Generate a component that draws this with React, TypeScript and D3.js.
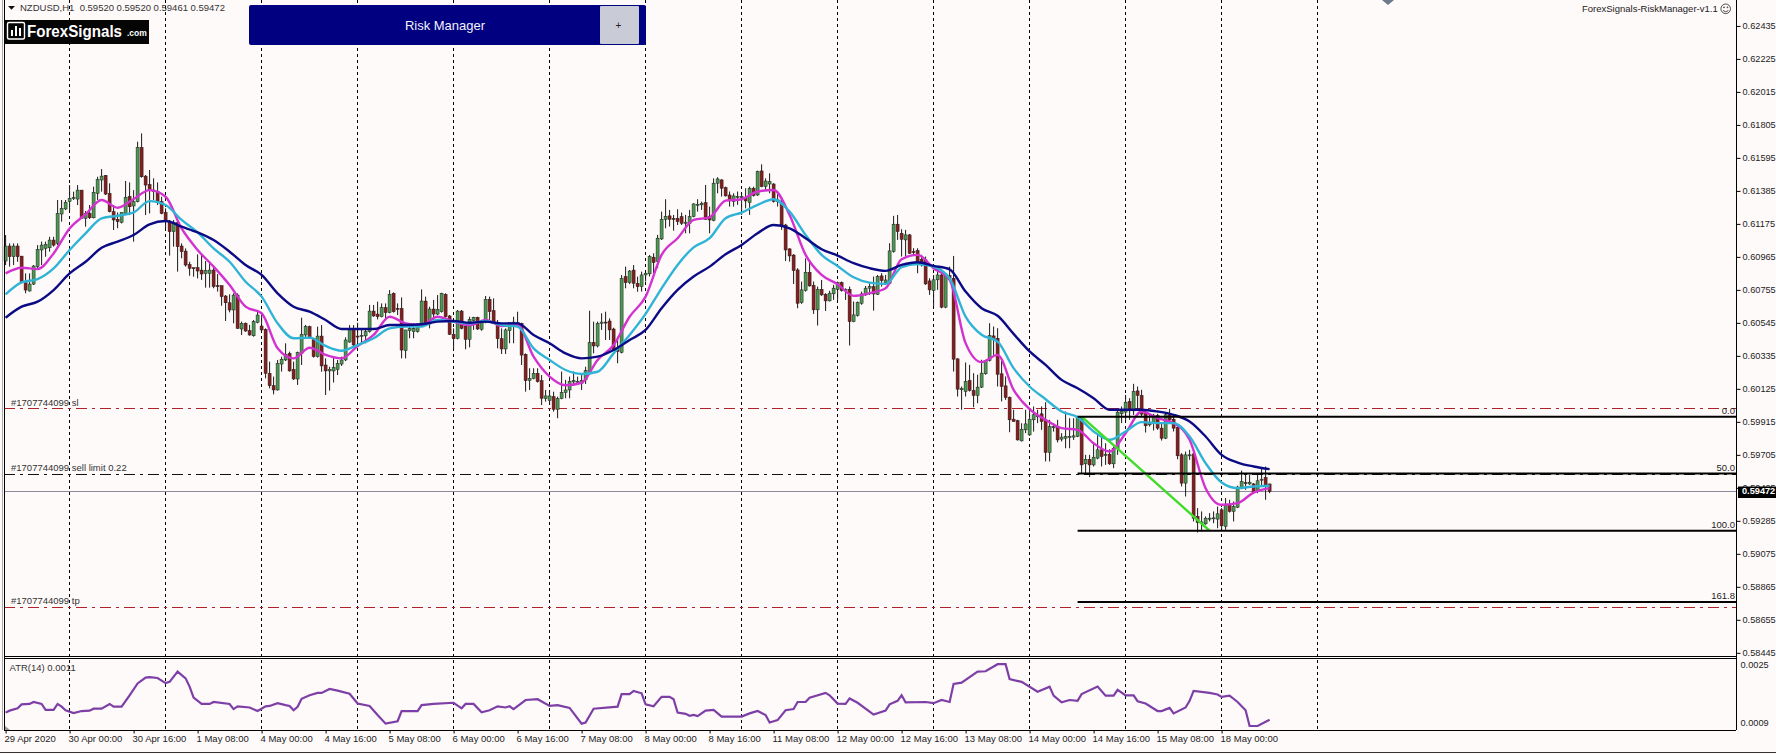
import React, { useEffect, useRef } from 'react';
import * as d3 from 'd3';

// prices are in points (1 = 0.00001)
const opens = [
  60939,61034,60966,61034,60970,60801,60748,60792,60903,61009,
  61019,61023,61072,61051,61238,61270,61316,61337,61333,61390,
  61210,61242,61214,61369,61454,61484,61369,61253,61204,61185,
  61242,61350,61289,61316,61662,61479,61426,61390,61380,61316,
  61248,61189,61125,61183,61034,61002,60917,60896,60896,60881,
  60860,60860,60881,60782,60782,60716,60673,60627,60722,60506,
  60542,60495,60463,60548,60525,60504,60224,60145,60118,60283,
  60309,60351,60249,60188,60351,60468,60521,60447,60330,60461,
  60277,60239,60239,60249,60283,60309,60423,60504,60461,60462,
  60462,60489,60620,60601,60584,60642,60610,60733,60637,60637,
  60368,60495,60489,60489,60527,60684,60538,60633,60601,60616,
  60727,60589,60472,60446,60620,60525,60440,60559,60580,60504,
  60548,60695,60623,60546,60444,60379,60495,60542,60546,60542,
  60345,60177,60192,60224,60177,60063,60050,60075,59995,60063,
  60101,60118,60169,60169,60160,60182,60235,60421,60398,60542,
  60550,60557,60506,60383,60357,60839,60801,60881,60797,60776,
  60850,60857,60963,60935,61079,61204,61226,61209,61211,61221,
  61179,61179,61221,61293,61296,61310,61221,61196,61434,61455,
  61406,61359,61317,61347,61342,61342,61310,61402,61359,61512,
  61412,61429,61429,61328,61321,61168,61016,60977,60882,60674,
  60751,60867,60784,60628,60759,60727,60685,60730,60759,60802,
  60751,60759,60553,60592,60670,60723,60766,60776,60727,60844,
  60801,60797,60999,61173,61115,61073,61105,60999,61005,60950,
  60946,60812,60751,60819,60850,60645,60846,60829,60316,60119,
  60108,60178,60115,60083,60136,60221,60305,60462,60447,60221,
  60144,60072,59932,59923,59794,59864,59832,59928,59947,59966,
  59923,59720,59877,59881,59805,59811,59815,59818,59822,59945,
  59648,59677,59641,59684,59737,59701,59709,59648,59743,59966,
  59977,60045,59985,60112,60083,59970,59896,59907,59955,59875,
  59811,59960,59932,59879,59705,59525,59699,59711,59313,59270,
  59266,59296,59300,59296,59355,59249,59387,59345,59372,59496,
  59528,59520,59520,59472,59547,59561,59520,
];
const highs = [
  61104,61051,61051,61051,60970,60860,60860,60913,61040,61062,
  61062,61093,61093,61327,61327,61327,61422,61380,61422,61390,
  61257,61295,61412,61475,61524,61486,61433,61295,61248,61248,
  61448,61439,61390,61698,61751,61486,61518,61465,61439,61348,
  61274,61200,61200,61189,61051,61019,60934,60896,60981,60977,
  60939,60939,60896,60856,60782,60722,60727,60733,60733,60553,
  60548,60532,60563,60616,60606,60510,60298,60203,60309,60330,
  60415,60362,60298,60362,60578,60532,60527,60451,60521,60531,
  60319,60266,60330,60309,60330,60453,60531,60531,60546,60510,
  60500,60659,60659,60680,60669,60669,60754,60739,60669,60707,
  60500,60531,60542,60542,60758,60712,60648,60691,60722,60737,
  60733,60595,60510,60627,60627,60531,60584,60584,60584,60559,
  60716,60712,60701,60563,60510,60510,60546,60584,60616,60546,
  60351,60256,60256,60256,60213,60118,60118,60107,60075,60235,
  60182,60203,60235,60203,60213,60266,60622,60553,60553,60606,
  60616,60574,60514,60457,60849,60903,60881,60913,60839,60871,
  60871,60977,60988,61105,61253,61332,61264,61232,61268,61247,
  61232,61264,61306,61332,61317,61423,61285,61465,61472,61459,
  61412,61381,61370,61381,61370,61402,61412,61412,61514,61554,
  61465,61497,61434,61370,61328,61175,61020,60982,60893,60808,
  60956,60946,60808,60776,60818,60734,60749,60787,60808,60808,
  60765,60776,60681,60681,60744,60780,60797,60840,60850,60861,
  60850,61052,61226,61232,61141,61137,61111,61020,61020,60978,
  60967,60829,60850,60903,60861,60861,60903,60971,60320,60140,
  60293,60278,60225,60215,60310,60310,60543,60522,60511,60310,
  60204,60076,59992,59928,59906,59992,59996,60013,59992,60013,
  60040,59928,59907,59928,59843,59981,59938,59938,59953,59949,
  59705,59705,59779,59843,59822,59779,59741,59758,59992,60013,
  60087,60066,60157,60140,60119,59992,59960,59966,59966,59907,
  59966,59998,59960,59885,59716,59726,59737,59737,59366,59345,
  59313,59334,59345,59376,59366,59430,59419,59408,59508,59605,
  59578,59578,59525,59578,59620,59631,59520,
];
const lows = [
  60913,60903,60913,60934,60797,60733,60744,60786,60892,60913,
  60966,60998,61030,61040,61189,61263,61257,61327,61295,61206,
  61157,61206,61210,61327,61380,61359,61248,61136,61147,61178,
  61231,61231,61062,61312,61469,61231,61242,61327,61295,61236,
  61147,60973,61030,60871,60956,60903,60845,60839,60828,60818,
  60769,60769,60765,60744,60654,60557,60612,60542,60506,60468,
  60489,60463,60457,60542,60493,60192,60128,60090,60114,60235,
  60302,60235,60182,60150,60277,60447,60447,60324,60324,60234,
  60086,60114,60165,60213,60271,60302,60419,60398,60419,60415,
  60415,60483,60584,60567,60580,60570,60606,60610,60595,60319,
  60319,60447,60447,60483,60521,60531,60510,60563,60595,60610,
  60580,60468,60377,60440,60504,60377,60389,60500,60500,60495,
  60542,60546,60538,60383,60347,60347,60415,60415,60538,60277,
  60107,60118,60186,60165,60022,60044,60022,59980,59938,60059,
  60065,60065,60150,60150,60118,60156,60224,60351,60389,60500,
  60436,60436,60372,60288,60351,60765,60792,60765,60743,60744,
  60808,60840,60861,60893,61073,61147,61158,61132,61168,61168,
  61115,61115,61217,61253,61264,61200,61115,61192,61370,61349,
  61349,61285,61285,61296,61232,61274,61232,61349,61353,61408,
  61391,61370,61311,61285,61137,60939,60935,60793,60638,60666,
  60744,60776,60602,60528,60717,60621,60681,60691,60691,60744,
  60691,60401,60549,60585,60660,60717,60723,60623,60723,60776,
  60793,60793,60992,61073,60967,60967,60984,60977,60861,60903,
  60787,60723,60645,60755,60638,60638,60823,60235,60076,59992,
  60076,60108,60008,60034,60130,60215,60299,60341,60140,60045,
  60055,59849,59917,59796,59790,59843,59826,59853,59907,59864,
  59663,59663,59853,59784,59790,59747,59747,59800,59818,59584,
  59588,59563,59631,59677,59631,59641,59641,59620,59705,59907,
  59917,59928,59959,59992,59949,59847,59885,59860,59864,59796,
  59805,59907,59854,59677,59504,59440,59673,59281,59211,59217,
  59260,59281,59270,59238,59228,59228,59338,59281,59366,59487,
  59482,59514,59461,59461,59500,59419,59461,
];
const closes = [
  61034,60966,61034,60966,60801,60754,60792,60907,61013,61040,
  61045,61072,61040,61242,61274,61312,61337,61342,61390,61210,
  61242,61214,61376,61458,61479,61365,61253,61200,61189,61248,
  61344,61284,61316,61662,61475,61422,61390,61380,61312,61242,
  61189,61125,61183,61030,60998,60913,60892,60890,60875,60856,
  60877,60881,60775,60775,60712,60673,60627,60722,60510,60542,
  60493,60468,60553,60595,60500,60224,60145,60118,60287,60313,
  60345,60239,60188,60355,60472,60521,60447,60330,60461,60271,
  60239,60249,60260,60287,60309,60436,60504,60404,60457,60466,
  60489,60620,60589,60584,60642,60610,60727,60616,60633,60372,
  60500,60510,60510,60527,60684,60538,60633,60601,60631,60733,
  60584,60472,60444,60620,60510,60440,60567,60580,60506,60553,
  60695,60616,60542,60444,60379,60500,60546,60550,60538,60340,
  60177,60192,60224,60171,60065,60080,60080,59995,60063,60103,
  60118,60173,60177,60173,60177,60241,60419,60398,60542,60550,
  60546,60500,60372,60362,60828,60801,60875,60797,60775,60850,
  60861,60967,60929,61084,61204,61222,61204,61204,61190,61179,
  61186,61221,61302,61300,61306,61204,61200,61434,61461,61402,
  61353,61323,61353,61349,61349,61321,61402,61355,61508,61412,
  61448,61444,61317,61317,61168,61009,60971,60878,60670,60755,
  60867,60780,60628,60759,60723,60685,60734,60766,60802,60751,
  60759,60553,60596,60676,60729,60766,60776,60729,60840,60814,
  60818,61003,61173,61126,61077,61105,60988,60997,60935,60914,
  60793,60755,60819,60850,60645,60846,60829,60314,60123,60128,
  60172,60115,60083,60136,60225,60305,60464,60441,60218,60140,
  60070,59928,59917,59800,59868,59902,59932,59960,59954,59917,
  59720,59885,59885,59800,59818,59822,59822,59826,59945,59641,
  59677,59641,59690,59737,59694,59709,59648,59747,59977,59981,
  60040,59985,60108,60083,59964,59890,59913,59955,59875,59811,
  59960,59928,59875,59699,59525,59705,59705,59302,59274,59278,
  59302,59302,59304,59330,59253,59387,59345,59376,59500,59535,
  59525,59531,59465,59540,59550,59514,59472,
];

// moving averages
const maBars = d3.range(0, 317, 4);
const maFast = [
  60860,60896,60888,60987,61146,61236,61327,61278,61333,61390,61348,61146,61009,60903,60786,60648,60606,60383,60319,60387,
  60341,60319,60398,60468,60584,60542,60531,60584,60553,60531,60563,60525,60531,60330,60203,60148,60164,60309,60404,60584,
  60712,60978,61084,61200,61217,61323,61332,61381,61391,61232,60978,60850,60791,60717,60734,60765,60950,60978,
  60893,60819,60416,60295,60341,60119,59996,59928,59875,59864,59779,59726,59843,59981,59938,59907,59801,59493,59387,59398,59465,59493,
];
const maMid = [
  60727,60803,60824,60892,61009,61115,61210,61227,61248,61320,61295,61200,61121,61019,60934,60807,60712,60542,60447,60451,
  60398,60368,60404,60447,60510,60521,60521,60563,60553,60542,60557,60531,60521,60383,60309,60245,60220,60234,60351,60468,
  60602,60765,60914,61026,61084,61211,61247,61296,61332,61253,61105,60978,60907,60835,60801,60793,60899,60920,
  60903,60829,60585,60469,60426,60257,60140,60059,59981,59945,59854,59801,59854,59913,59907,59907,59822,59652,59529,59493,59504,59508,
];
const maSlow = [
  60578,60648,60680,60754,60860,60934,61023,61062,61104,61172,61193,61157,61121,61072,60998,60913,60850,60733,60648,60616,
  60563,60506,60506,60506,60531,60531,60536,60553,60557,60546,60553,60542,60542,60468,60415,60351,60319,60330,60372,60436,
  60500,60638,60755,60840,60903,60982,61041,61115,61168,61147,61084,61014,60973,60925,60893,60876,60914,60931,
  60908,60886,60744,60638,60590,60475,60363,60278,60182,60129,60066,59992,59992,59992,59981,59960,59917,59822,59705,59656,59631,59614,
];

// ATR(14) in points, at the bars where the line turns
const atrBars = [
  0,1,3,4,6,7,9,10,12,13,14,15,17,19,21,22,24,26,27,29,31,33,35,36,38,40,41,43,45,46,47,49,51,52,56,57,58,61,63,65,66,68,70,71,72,73,74,76,78,79,
  81,83,86,88,91,93,95,98,99,103,104,107,112,114,115,117,119,121,123,125,126,127,130,133,136,138,141,144,145,147,153,154,156,157,159,
  160,162,164,166,167,168,170,171,172,173,175,177,179,184,186,188,190,191,193,195,197,198,200,201,205,206,208,210,211,213,217,220,221,223,224,225,230,232,234,236,237,239,243,245,248,250,251,254,258,261,262,264,266,268,269,273,275,277,278,280,282,283,285,288,289,291,292,295,296,297,301,303,304,306,308,310,311,313,316,
];
const atrValues = [
  124,129,135,145,146,151,146,131,131,146,139,130,123,128,129,134,134,146,139,139,168,198,213,214,212,199,202,228,211,190,162,146,146,151,146,133,140,137,128,140,141,148,143,141,130,139,159,168,174,174,
  184,180,172,147,141,118,96,102,128,128,143,146,149,135,146,146,125,130,140,137,140,133,156,158,141,143,136,96,99,134,139,171,171,179,173,
  145,140,164,164,158,124,121,116,118,115,129,131,114,114,122,128,118,99,105,130,133,151,151,162,174,168,147,146,160,149,119,129,145,154,168,150,151,148,156,151,197,200,228,229,247,247,209,202,177,190,167,150,156,154,171,190,167,167,182,168,168,153,147,128,128,136,122,137,154,179,174,170,164,167,151,130,90,90,106,
];

const priceTicks = [62435,62225,62015,61805,61595,61385,61175,60965,60755,60545,60335,60125,59915,59705,59495,59285,59075,58865,58655,58445];
const timeLabels = [
  '29 Apr 2020','30 Apr 00:00','30 Apr 16:00','1 May 08:00','4 May 00:00','4 May 16:00','5 May 08:00','6 May 00:00','6 May 16:00','7 May 08:00',
  '8 May 00:00','8 May 16:00','11 May 08:00','12 May 00:00','12 May 16:00','13 May 08:00','14 May 00:00','14 May 16:00','15 May 08:00','18 May 00:00',
];
const fibNames = ['0.0', '50.0', '100.0', '161.8'];
const fibPrices = [59948, 59586, 59222, 58769];
const fibStartBar = 268;
const orderNames = ['#1707744099 sl', '#1707744099 sell limit 0.22', '#1707744099 tp'];
const orderPrices = [60002, 59582, 58739];
const orderColors = ['#b0202a', '#111111', '#b0202a'];
const lastPrice = 59472;
const trendBars = [269, 301];
const trendPrices = [59948, 59222];

const FONT = '"Liberation Sans", Arial, sans-serif';
const pts = (v: number) => (v / 1e5).toFixed(5);

export default function App() {
  const svgRef = useRef<SVGSVGElement | null>(null);

  useEffect(() => {
    document.body.style.margin = '0';
    const svg = d3.select(svgRef.current);
    svg.selectAll('*').remove();

    const width = 1776;
    const height = 754;
    const left = 4;
    const right = 1736;
    const mainBottom = 656;
    const atrTop = 658;
    const atrBottom = 730;

    const x = d3.scaleLinear().domain([0, 316]).range([5.6, 1269.6]);
    const y = d3.scaleLinear().domain([58426, 62600]).range([655.8, 0]);
    const yAtr = d3.scaleLinear().domain([90, 250]).range([726, 663]);

    svg.append('rect').attr('width', width).attr('height', height).attr('fill', '#fffafa');

    // grid, every 24 bars
    svg.append('g').selectAll('line').data(d3.range(16, 340, 24)).join('line')
      .attr('x1', (d) => Math.floor(x(d)) + 0.5).attr('x2', (d) => Math.floor(x(d)) + 0.5)
      .attr('y1', 0).attr('y2', atrBottom)
      .attr('stroke', '#000').attr('stroke-dasharray', '3,3');

    // last price + order lines
    svg.append('line').attr('x1', left).attr('x2', right)
      .attr('y1', Math.round(y(lastPrice)) + 0.5).attr('y2', Math.round(y(lastPrice)) + 0.5)
      .attr('stroke', '#8a8a9c');
    svg.append('g').selectAll('line').data(orderPrices).join('line')
      .attr('x1', left).attr('x2', right)
      .attr('y1', (d) => Math.round(y(d)) + 0.5).attr('y2', (d) => Math.round(y(d)) + 0.5)
      .attr('stroke', (_, i) => orderColors[i])
      .attr('stroke-dasharray', '11,5,3,5');
    svg.append('g').selectAll('text').data(orderNames).join('text')
      .attr('x', 11).attr('y', (_, i) => y(orderPrices[i]) - 6)
      .attr('dy', '0.35em').attr('font-family', FONT).attr('font-size', 9.5).attr('fill', '#333')
      .text((d) => d);

    // candles
    const bars = d3.range(opens.length);
    const candles = svg.append('g');
    candles.selectAll('line').data(bars).join('line')
      .attr('x1', (i) => x(i)).attr('x2', (i) => x(i))
      .attr('y1', (i) => y(highs[i])).attr('y2', (i) => y(lows[i]))
      .attr('stroke', '#1a1a1a');
    candles.selectAll('rect').data(bars).join('rect')
      .attr('x', (i) => x(i) - 1.5).attr('width', 3)
      .attr('y', (i) => y(Math.max(opens[i], closes[i])))
      .attr('height', (i) => Math.max(1, Math.abs(y(opens[i]) - y(closes[i]))))
      .attr('fill', (i) => (closes[i] >= opens[i] ? '#4a9a50' : '#8a1c1c'))
      .attr('stroke', '#1a1a1a').attr('stroke-width', 0.5);

    // moving averages
    const maLine = d3.line<number>()
      .x((_, i) => x(maBars[i]))
      .y((d) => y(d))
      .curve(d3.curveMonotoneX);
    [[maFast, '#d232cf'], [maMid, '#2fb4d6'], [maSlow, '#0b0b86']].forEach(([vals, col]) => {
      svg.append('path').datum(vals as number[])
        .attr('fill', 'none').attr('stroke', col as string).attr('stroke-width', 2.4)
        .attr('d', maLine);
    });

    // fibo + trend line
    svg.append('path')
      .datum(trendBars)
      .attr('fill', 'none').attr('stroke', '#3fdc2a').attr('stroke-width', 2.4)
      .attr('d', d3.line<number>().x((d) => x(d)).y((_, i) => y(trendPrices[i])));
    svg.append('g').selectAll('line').data(fibPrices).join('line')
      .attr('x1', x(fibStartBar)).attr('x2', right)
      .attr('y1', (d) => y(d)).attr('y2', (d) => y(d))
      .attr('stroke', '#000').attr('stroke-width', 2);
    svg.append('g').selectAll('text').data(fibNames).join('text')
      .attr('x', right - 1).attr('y', (_, i) => y(fibPrices[i]) - 6)
      .attr('dy', '0.35em').attr('text-anchor', 'end')
      .attr('font-family', FONT).attr('font-size', 9.5).attr('fill', '#222')
      .text((d) => d);

    // ATR pane
    svg.append('path').datum(atrValues)
      .attr('fill', 'none').attr('stroke', '#7d3fa6').attr('stroke-width', 2.2)
      .attr('d', d3.line<number>().x((_, i) => x(atrBars[i])).y((d) => yAtr(d)));
    svg.append('text').attr('x', 9.5).attr('y', 667.7).attr('dy', '0.35em')
      .attr('font-family', FONT).attr('font-size', 9.5).attr('fill', '#333').text('ATR(14) 0.0011');
    svg.append('polygon').attr('points', '4,725 10,730 4,730').attr('fill', '#999');

    // frame
    const frame = svg.append('g').attr('stroke', '#000').attr('fill', 'none');
    frame.append('line').attr('x1', left + 0.5).attr('x2', left + 0.5).attr('y1', 0).attr('y2', atrBottom);
    frame.append('line').attr('x1', 2.5).attr('x2', 2.5).attr('y1', 0).attr('y2', atrBottom).attr('stroke', '#aaa');
    frame.append('line').attr('x1', right + 0.5).attr('x2', right + 0.5).attr('y1', 0).attr('y2', atrBottom);
    [mainBottom + 0.5, atrTop + 0.5, atrBottom + 0.5].forEach((v) => {
      frame.append('line').attr('x1', left).attr('x2', right).attr('y1', v).attr('y2', v);
    });
    frame.append('line').attr('x1', 0).attr('x2', width).attr('y1', 752.5).attr('y2', 752.5).attr('stroke', '#333');

    // price axis
    const priceAxis = svg.append('g').attr('transform', `translate(${right + 0.5},0)`)
      .call(d3.axisRight(y).tickValues(priceTicks).tickSize(4).tickPadding(2).tickFormat((d) => pts(d as number)));
    priceAxis.select('.domain').remove();
    priceAxis.selectAll('text').attr('font-family', FONT).attr('font-size', 9.2).attr('fill', '#222');
    priceAxis.selectAll('line').attr('stroke', '#000');

    const atrAxis = svg.append('g').attr('transform', `translate(${right + 0.5},0)`)
      .call(d3.axisRight(d3.scaleLinear().domain([90, 250]).range([723, 665]))
        .tickValues([250, 90]).tickSize(0).tickPadding(4).tickFormat((d) => ((d as number) / 1e5).toFixed(4)));
    atrAxis.select('.domain').remove();
    atrAxis.selectAll('text').attr('font-family', FONT).attr('font-size', 9.2).attr('fill', '#222');

    // last price label
    svg.append('rect').attr('x', 1738).attr('y', 486.5).attr('width', 38).attr('height', 11.5).attr('fill', '#000');
    svg.append('text').attr('x', 1742).attr('y', y(lastPrice) - 0.5).attr('dy', '0.35em')
      .attr('font-family', FONT).attr('font-size', 9.2).attr('font-weight', 'bold').attr('fill', '#fff').text(pts(lastPrice));

    // time axis, every 16 bars
    const timeAxis = svg.append('g').attr('transform', `translate(0,${atrBottom + 0.5})`)
      .call(d3.axisBottom(x).tickValues(timeLabels.map((_, i) => i * 16)).tickSize(3)
        .tickFormat((_, i) => timeLabels[i]));
    timeAxis.select('.domain').remove();
    timeAxis.selectAll('line').attr('stroke', '#000');
    timeAxis.selectAll('text')
      .attr('text-anchor', 'start').attr('x', -1.6).attr('y', 5)
      .attr('font-family', FONT).attr('font-size', 9.5).attr('fill', '#222');

    // header
    svg.append('polygon').attr('points', '8,6 15,6 11.5,9.8').attr('fill', '#111');
    svg.append('text').attr('x', 20).attr('y', 8).attr('dy', '0.35em')
      .attr('font-family', FONT).attr('font-size', 9.5).attr('fill', '#333')
      .attr('xml:space', 'preserve').text('NZDUSD,H1  0.59520 0.59520 0.59461 0.59472');

    // logo
    const logo = svg.append('g');
    logo.append('rect').attr('x', 4.5).attr('y', 20).attr('width', 144.5).attr('height', 24).attr('fill', '#050505');
    logo.append('rect').attr('x', 7.5).attr('y', 22.5).attr('width', 17).attr('height', 16.5).attr('rx', 1.5)
      .attr('fill', 'none').attr('stroke', '#fff').attr('stroke-width', 1.4);
    [[11, 30, 6], [15, 26, 10], [19, 28, 8]].forEach(([bx, by, bh]) => {
      logo.append('rect').attr('x', bx).attr('y', by).attr('width', 2).attr('height', bh).attr('fill', '#fff');
    });
    logo.append('text').attr('x', 27).attr('y', 31).attr('dy', '0.35em')
      .attr('font-family', FONT).attr('font-weight', 'bold').attr('font-size', 16).attr('fill', '#fff')
      .attr('textLength', 95).attr('lengthAdjust', 'spacingAndGlyphs').text('ForexSignals');
    logo.append('text').attr('x', 127).attr('y', 33.5).attr('dy', '0.35em')
      .attr('font-family', FONT).attr('font-weight', 'bold').attr('font-size', 8.5).attr('fill', '#fff').text('.com');

    // Risk Manager panel
    svg.append('rect').attr('x', 249).attr('y', 5).attr('width', 397).attr('height', 40).attr('rx', 2).attr('fill', '#000080');
    svg.append('text').attr('x', 445).attr('y', 25).attr('dy', '0.35em').attr('text-anchor', 'middle')
      .attr('font-family', FONT).attr('font-size', 13).attr('fill', '#f2f2f8').text('Risk Manager');
    svg.append('rect').attr('x', 600).attr('y', 6).attr('width', 39).attr('height', 38).attr('rx', 1).attr('fill', '#c9ccd6');
    svg.append('text').attr('x', 618.5).attr('y', 25).attr('dy', '0.35em').attr('text-anchor', 'middle')
      .attr('font-family', FONT).attr('font-size', 10).attr('fill', '#222').text('+');

    // top right
    svg.append('polygon').attr('points', '1382,0 1394,0 1388,5').attr('fill', '#6c7a8c');
    svg.append('text').attr('x', 1717.7).attr('y', 8.6).attr('dy', '0.35em').attr('text-anchor', 'end')
      .attr('font-family', FONT).attr('font-size', 9.5).attr('fill', '#222').text('ForexSignals-RiskManager-v1.1');
    const smile = svg.append('g').attr('fill', 'none').attr('stroke', '#222').attr('stroke-width', 0.8);
    smile.append('circle').attr('cx', 1725.7).attr('cy', 8.8).attr('r', 4.8);
    smile.append('path').attr('d', 'M1723,10.5 Q1725.7,13 1728.4,10.5');
    smile.append('circle').attr('cx', 1724).attr('cy', 7.3).attr('r', 0.5);
    smile.append('circle').attr('cx', 1727.4).attr('cy', 7.3).attr('r', 0.5);
  }, []);

  return <svg ref={svgRef} width={1776} height={754} style={{ position: 'absolute', left: 0, top: 0 }}></svg>;
}
